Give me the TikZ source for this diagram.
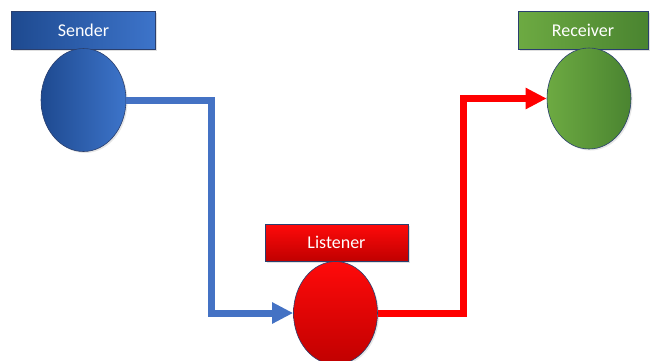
\documentclass[tikz,border=0pt]{standalone}
\usepackage{fontspec}
\setmainfont{Carlito}
\usetikzlibrary{arrows.meta,shapes.geometric,shadows}

\definecolor{bluedark}{HTML}{1E4A90}
\definecolor{bluelight}{HTML}{3D74CA}
\definecolor{blueline}{HTML}{4472C4}
\definecolor{redtop}{HTML}{FF0A0A}
\definecolor{redbot}{HTML}{C00000}
\definecolor{greenlight}{HTML}{6DAA42}
\definecolor{greendark}{HTML}{4A8430}
\definecolor{edgeblue}{HTML}{2A3F6E}

\tikzset{
  label box/.style={rectangle, draw=edgeblue, line width=0.6pt,
    minimum width=144pt, minimum height=38pt, inner sep=0pt,
    text=white, font=\fontsize{18}{20}\selectfont,
    drop shadow={opacity=0.25, shadow xshift=1.5pt, shadow yshift=-1.5pt}},
  role/.style={ellipse, draw=edgeblue, line width=0.6pt, inner sep=0pt,
    minimum width=85pt, minimum height=103pt,
    drop shadow={opacity=0.2, shadow xshift=1.5pt, shadow yshift=-1.5pt}},
  bluegrad/.style={left color=bluedark, right color=bluelight},
  redgrad/.style={top color=redtop, bottom color=redbot},
  greengrad/.style={left color=greenlight, right color=greendark},
  flow/.style={line width=7pt, line join=miter,
    -{Triangle[length=21pt,width=20pt]}}
}

\begin{document}
\begin{tikzpicture}[x=1pt,y=-1pt]
  \useasboundingbox (0,0) rectangle (651,360);
  \clip (0,0) rectangle (651,360);

  % sender
  \node[label box, bluegrad] (sndlab) at (83.5,30) {Sender};
  \node[role, bluegrad] (snd) at (83.5,100) {};

  % listener
  \node[label box, redgrad, minimum width=143pt, minimum height=37pt] (lislab) at (336.5,242.5) {Listener};
  \node[role, redgrad, minimum width=84pt] (lis) at (335.5,313) {};

  % receiver
  \node[label box, greengrad, minimum width=130pt] (rcvlab) at (583,30) {Receiver};
  \node[role, greengrad, minimum width=84pt, minimum height=101pt] (rcv) at (589,98.5) {};

  % message flow
  \draw[flow, draw=blueline] (snd.east) -- ++(85,0) |- (lis.west);
  \draw[flow, draw=red] (lis.east) -- ++(86,0) |- (rcv.west);
\end{tikzpicture}
\end{document}
